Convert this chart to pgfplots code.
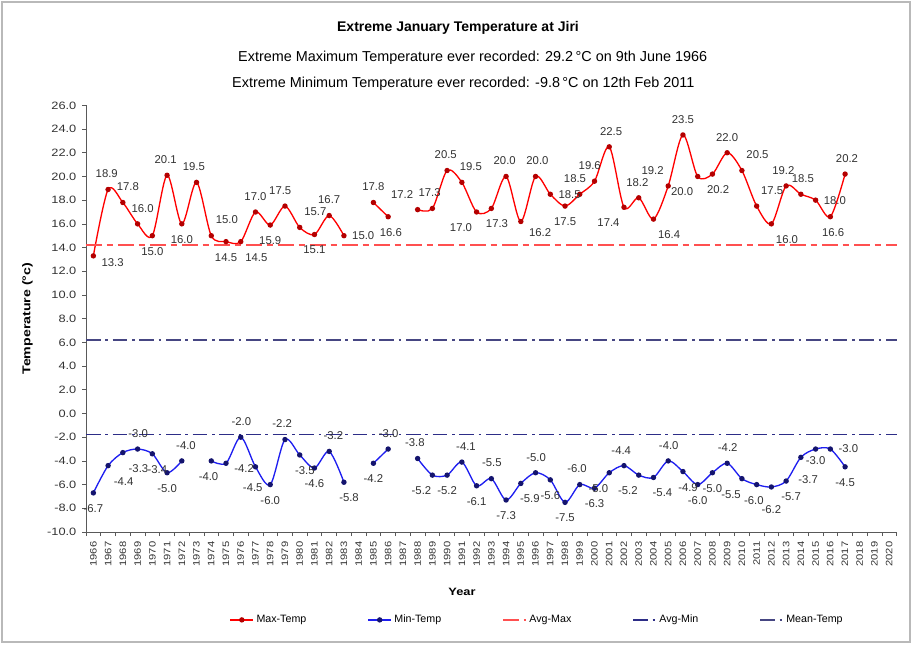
\documentclass[border=0pt]{standalone}
\usepackage{fontspec}
\setmainfont{Liberation Sans}
\usepackage{pgfplots}
\pgfplotsset{compat=1.18}

\definecolor{maxline}{RGB}{255,0,0}
\definecolor{maxmark}{RGB}{180,0,0}
\definecolor{minline}{RGB}{30,30,240}
\definecolor{minmark}{RGB}{20,20,110}
\definecolor{avgmax}{RGB}{255,80,80}
\definecolor{avgmin}{RGB}{45,45,135}
\definecolor{meant}{RGB}{70,70,130}
\definecolor{labtxt}{RGB}{50,50,50}

% data labels, grouped by where they sit around the point (anchor angle)
\pgfplotsset{
    lab/.style={
        forget plot, draw=none, mark=none,
        point meta=y,
        nodes near coords={\pgfmathprintnumber[fixed,fixed zerofill,precision=1]{\pgfplotspointmeta}},
        every node near coord/.append style={anchor=#1, font=\fontsize{8.5}{9}\selectfont,
            text=labtxt, inner xsep=6pt, inner ysep=8.5pt},
    },
}

\begin{document}
\begin{tikzpicture}
\begin{axis}[
    name=ax,
    scale only axis,
    width=608pt, height=320pt,
    xmin=1965.5, xmax=2020.5,
    ymin=-10, ymax=26,
    axis x line*=bottom, axis y line*=left,
    axis line style={draw=gray!70!black, line width=0.5pt},
    tick align=outside,
    major tick length=3pt, minor tick length=3pt,
    tick style={draw=gray!70!black, line width=0.5pt},
    xtick={1966,...,2020},
    minor xtick={1965.5,1966.5,...,2020.5},
    major x tick style={draw=none},
    ytick={-10,-8,...,26},
    /pgf/number format/assume math mode=true,
    x tick label style={rotate=90, xscale=1.2, anchor=east, text=black!80,
        font=\fontsize{7}{8}\selectfont,
        /pgf/number format/.cd, fixed, precision=0, 1000 sep={}},
    y tick label style={xscale=1.2, text=black!80, font=\fontsize{8}{9}\selectfont,
        /pgf/number format/.cd, fixed, fixed zerofill, precision=1},
    unbounded coords=jump,
    clip=false,
    legend style={at={(0.557,-0.206)}, anchor=center, draw=none,
        legend columns=5, font=\fontsize{8}{9}\selectfont,
        /tikz/every even column/.append style={column sep=44pt}},
]
\addplot[maxline, line width=1pt, smooth, mark=*, mark size=1.5pt,
    mark options={fill=maxmark, draw=maxmark}] coordinates {
    (1966,13.3) (1967,18.9) (1968,17.8) (1969,16.0) (1970,15.0) (1971,20.1)
    (1972,16.0) (1973,19.5) (1974,15.0) (1975,14.5) (1976,14.5) (1977,17.0)
    (1978,15.9) (1979,17.5) (1980,15.7) (1981,15.1) (1982,16.7) (1983,15.0)
    (1984,nan) (1985,17.8) (1986,16.6) (1987,nan)
    (1988,17.2) (1989,17.3) (1990,20.5) (1991,19.5) (1992,17.0) (1993,17.3)
    (1994,20.0) (1995,16.2) (1996,20.0) (1997,18.5) (1998,17.5) (1999,18.5)
    (2000,19.6) (2001,22.5) (2002,17.4) (2003,18.2) (2004,16.4) (2005,19.2)
    (2006,23.5) (2007,20.0) (2008,20.2) (2009,22.0) (2010,20.5) (2011,17.5)
    (2012,16.0) (2013,19.2) (2014,18.5) (2015,18.0) (2016,16.6) (2017,20.2)
};
\addlegendentry{Max-Temp}
\addplot[minline, line width=1pt, smooth, mark=*, mark size=1.5pt,
    mark options={fill=minmark, draw=minmark}] coordinates {
    (1966,-6.7) (1967,-4.4) (1968,-3.3) (1969,-3.0) (1970,-3.4) (1971,-5.0)
    (1972,-4.0) (1973,nan) (1974,-4.0) (1975,-4.2) (1976,-2.0) (1977,-4.5)
    (1978,-6.0) (1979,-2.2) (1980,-3.5) (1981,-4.6) (1982,-3.2) (1983,-5.8)
    (1984,nan) (1985,-4.2) (1986,-3.0) (1987,nan)
    (1988,-3.8) (1989,-5.2) (1990,-5.2) (1991,-4.1) (1992,-6.1) (1993,-5.5)
    (1994,-7.3) (1995,-5.9) (1996,-5.0) (1997,-5.6) (1998,-7.5) (1999,-6.0)
    (2000,-6.3) (2001,-5.0) (2002,-4.4) (2003,-5.2) (2004,-5.4) (2005,-4.0)
    (2006,-4.9) (2007,-6.0) (2008,-5.0) (2009,-4.2) (2010,-5.5) (2011,-6.0)
    (2012,-6.2) (2013,-5.7) (2014,-3.7) (2015,-3.0) (2016,-3.0) (2017,-4.5)
};
\addlegendentry{Min-Temp}
\addplot[avgmax, line width=1.1pt, no marks,
    dash pattern=on 12pt off 3.5pt on 5pt off 3.5pt]
    coordinates {(1965.5,14.2) (2020.5,14.2)};
\addlegendentry{Avg-Max}
\addplot[avgmin, line width=1pt, no marks,
    dash pattern=on 11pt off 3.5pt on 2pt off 3.5pt]
    coordinates {(1965.5,-1.8) (2020.5,-1.8)};
\addlegendentry{Avg-Min}
\addplot[meant, line width=0.9pt, no marks,
    dash pattern=on 11pt off 3.5pt on 2pt off 3.5pt]
    coordinates {(1965.5,6.2) (2020.5,6.2)};
\addlegendentry{Mean-Temp}

% Max-Temp labels
\addplot[lab=160] coordinates {(1966,13.3)};
\addplot[lab=275] coordinates {(1967,18.9) (1971,20.1) (1990,20.5) (1994,20.0) (2003,18.2)};
\addplot[lab=252] coordinates {(1968,17.8) (1969,16.0)};
\addplot[lab=90] coordinates {(1970,15.0) (1972,16.0) (1975,14.5) (1978,15.9) (1981,15.1) (1998,17.5)};
\addplot[lab=280] coordinates {(1973,19.5) (1989,17.3) (2013,19.2)};
\addplot[lab=225] coordinates {(1974,15.0) (1980,15.7) (2010,20.5) (2011,17.5)};
\addplot[lab=135] coordinates {(1976,14.5) (2004,16.4) (2012,16.0)};
\addplot[lab=270] coordinates {(1977,17.0) (1982,16.7) (1985,17.8) (2006,23.5) (2009,22.0)};
\addplot[lab=287] coordinates {(1979,17.5) (1999,18.5) (2000,19.6)};
\addplot[lab=180] coordinates {(1983,15.0) (1997,18.5) (2015,18.0)};
\addplot[lab=100] coordinates {(1986,16.6) (2016,16.6)};
\addplot[lab=315] coordinates {(1988,17.2) (2005,19.2)};
\addplot[lab=240] coordinates {(1991,19.5)};
\addplot[lab=45] coordinates {(1992,17.0) (2002,17.4) (2007,20.0)};
\addplot[lab=110] coordinates {(1993,17.3) (2008,20.2)};
\addplot[lab=150] coordinates {(1995,16.2)};
\addplot[lab=263] coordinates {(1996,20.0) (2014,18.5) (2001,22.5) (2017,20.2)};

% Min-Temp labels
\addplot[lab=90] coordinates {(1966,-6.7) (1971,-5.0) (1985,-4.2) (1990,-5.2) (1992,-6.1)
    (1994,-7.3) (1997,-5.6) (1998,-7.5) (2007,-6.0) (2008,-5.0)
    (2017,-4.5) (1978,-6.0) (1981,-4.6) (2000,-6.3)};
\addplot[lab=90, every node near coord/.append style={yshift=-5pt}] coordinates {(2012,-6.2)};
\addplot[lab=90, every node near coord/.append style={yshift=3pt}] coordinates {(2015,-3.0)};
\addplot[lab=135] coordinates {(1967,-4.4) (1968,-3.3)};
\addplot[lab=165] coordinates {(1975,-4.2)};
\addplot[lab=268] coordinates {(1969,-3.0) (1976,-2.0) (1986,-3.0) (1996,-5.0) (2005,-4.0)
    (2009,-4.2) (1993,-5.5)};
\addplot[lab=108] coordinates {(1970,-3.4) (2006,-4.9) (1980,-3.5) (1983,-5.8) (2013,-5.7)};
\addplot[lab=255] coordinates {(1972,-4.0) (1982,-3.2) (1991,-4.1)};
\addplot[lab=80] coordinates {(1974,-4.0) (2011,-6.0)};
\addplot[lab=80, every node near coord/.append style={yshift=-4pt}] coordinates {(1977,-4.5)};
\addplot[lab=280] coordinates {(1979,-2.2) (1988,-3.8) (1999,-6.0) (2002,-4.4)};
\addplot[lab=55] coordinates {(1989,-5.2) (2001,-5.0) (2003,-5.2) (2010,-5.5)};
\addplot[lab=120] coordinates {(1995,-5.9) (2004,-5.4)};
\addplot[lab=115, every node near coord/.append style={yshift=-5pt}] coordinates {(2014,-3.7)};
\addplot[lab=180] coordinates {(2016,-3.0)};
\end{axis}

% chart area frame
\path ([shift={(-64.5pt,-84pt)}]ax.south west) rectangle ([shift={(619.5pt,399pt)}]ax.south west);
\draw[gray!55, line width=0.8pt] ([shift={(-63pt,-82.5pt)}]ax.south west)
    rectangle ([shift={(618pt,397.5pt)}]ax.south west);

\node[font=\fontsize{10.5}{12}\selectfont\bfseries] at ([shift={(279pt,378pt)}]ax.south west)
    {Extreme January Temperature at Jiri};
\node[font=\fontsize{10.8}{12}\selectfont] at ([shift={(290pt,356pt)}]ax.south west)
    {Extreme Maximum Temperature ever recorded: 29.2\,°C on 9th June 1966};
\node[font=\fontsize{10.8}{12}\selectfont] at ([shift={(283pt,336pt)}]ax.south west)
    {Extreme Minimum Temperature ever recorded: -9.8\,°C on 12th Feb 2011};
\node[rotate=90, xscale=1.25, font=\fontsize{8.5}{9}\selectfont\bfseries]
    at ([shift={(-44pt,160pt)}]ax.south west) {Temperature (°c)};
\node[xscale=1.2, font=\fontsize{8}{9}\selectfont\bfseries] at ([shift={(282pt,-45pt)}]ax.south west)
    {Year};
\end{tikzpicture}
\end{document}
